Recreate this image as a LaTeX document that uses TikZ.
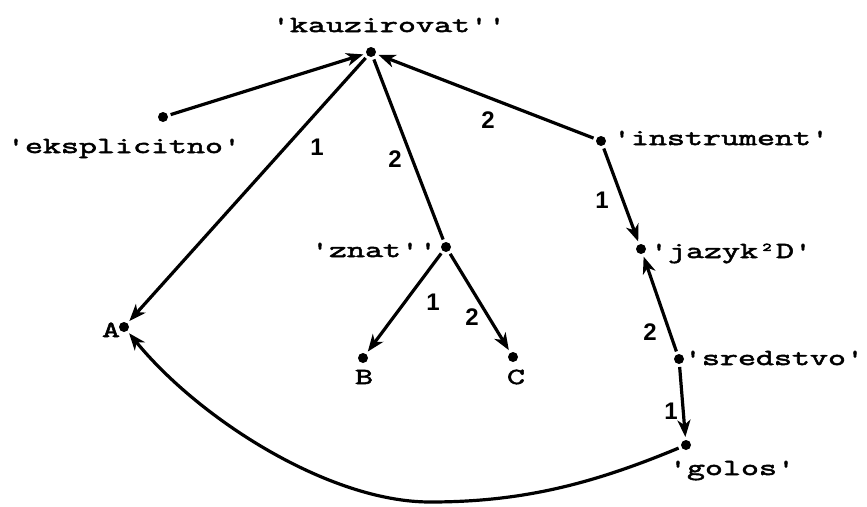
\documentclass[tikz,border=0pt]{standalone}
\usepackage{fontspec}
\usetikzlibrary{arrows.meta}
\newfontfamily\twfont{Latin Modern Mono}[FakeStretch=1.52, FakeBold=2.5]
\newfontfamily\numfont{Liberation Sans}
\tikzset{
  dot/.style={circle, fill, inner sep=0pt, minimum size=10pt, outer sep=3pt},
  word/.style={inner sep=0pt, anchor=base, font=\twfont\fontsize{23}{23}\selectfont},
  num/.style={inner sep=0pt, font=\numfont\bfseries\fontsize{24}{24}\selectfont},
  edge/.style={line width=3.2pt, -{Stealth[length=17pt,width=13pt,inset=5pt]}},
  plainedge/.style={line width=3.2pt}
}
\begin{document}
\begin{tikzpicture}[x=1pt,y=-1pt]
\useasboundingbox (0,0) rectangle (867,506);
% dots
\node[dot] (k) at (371,52) {};
\node[dot] (e) at (163,117) {};
\node[dot] (i) at (601,141) {};
\node[dot] (j) at (641,249) {};
\node[dot] (z) at (446,247) {};
\node[dot] (a) at (124,327) {};
\node[dot] (b) at (363,358) {};
\node[dot] (c) at (513,357) {};
\node[dot] (s) at (679,359) {};
\node[dot] (g) at (686,445) {};
% words
\node[word] (kt) at (389,32) {'kauzirovat''};
\node[word] (et) at (124,153) {'eksplicitno'};
\node[word] (it) at (721,145) {'instrument'};
\node[word] (jt) at (731,258) {'jazyk²D'};
\node[word] (zt) at (374,257) {'znat''};
\node[word] (at) at (111,337) {A};
\node[word] (bt) at (364,384) {B};
\node[word] (ct) at (516,384) {C};
\node[word] (st) at (774,365) {'sredstvo'};
\node[word] (gt) at (732,475) {'golos'};
% numbers
\node[num] (n1) at (317,147) {1};
\node[num] (n2) at (395,159) {2};
\node[num] (n3) at (488,120) {2};
\node[num] (n4) at (602,200) {1};
\node[num] (n5) at (433,302) {1};
\node[num] (n6) at (472,317) {2};
\node[num] (n7) at (650,332) {2};
\node[num] (n8) at (671,411) {1};
% edges
\draw[edge] (e) -- (k);
\draw[edge] (k) -- (a);
\draw[plainedge] (k) -- (z);
\draw[edge] (i) -- (k);
\draw[edge] (i) -- (j);
\draw[edge] (z) -- (b);
\draw[edge] (z) -- (c);
\draw[edge] (s) -- (j);
\draw[edge] (s) -- (g);
\coordinate (bot) at (430,502);
\draw[edge] (g) .. controls (590,485) and (520,502) .. (bot) .. controls (330,502) and (200,420) .. (a);
\end{tikzpicture}
\end{document}
